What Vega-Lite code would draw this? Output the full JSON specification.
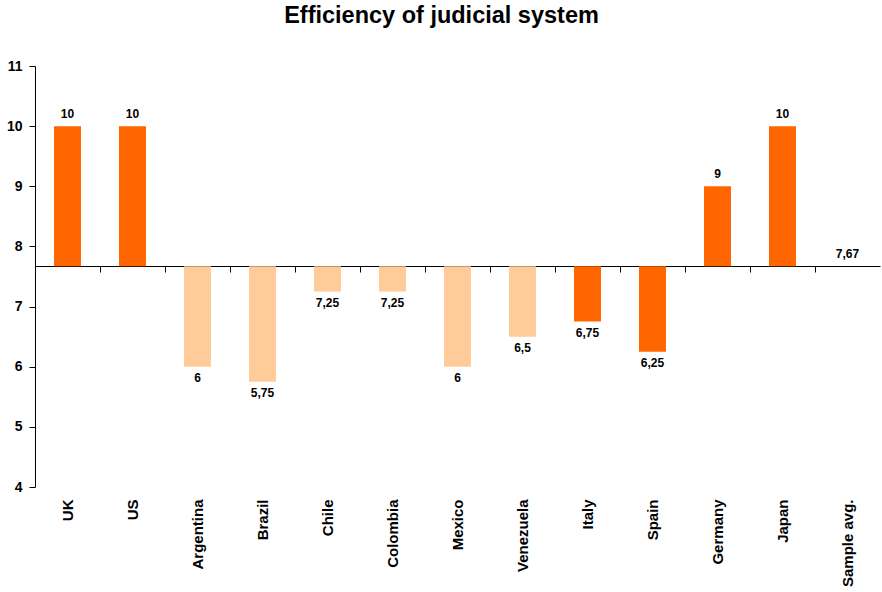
{
  "$schema": "https://vega.github.io/schema/vega-lite/v6.json",
  "width": 845,
  "height": 421,
  "autosize": {"type": "none"},
  "padding": {"left": 35, "top": 66, "right": 2, "bottom": 105},
  "background": "white",
  "title": {
    "text": "Efficiency of judicial system",
    "font": "Liberation Sans",
    "fontSize": 23.5,
    "fontWeight": "bold",
    "color": "black",
    "anchor": "middle",
    "dx": -16,
    "offset": 32
  },
  "data": {
    "values": [
      {"country": "UK", "value": 10, "group": "dev"},
      {"country": "US", "value": 10, "group": "dev"},
      {"country": "Argentina", "value": 6, "group": "latam"},
      {"country": "Brazil", "value": 5.75, "group": "latam"},
      {"country": "Chile", "value": 7.25, "group": "latam"},
      {"country": "Colombia", "value": 7.25, "group": "latam"},
      {"country": "Mexico", "value": 6, "group": "latam"},
      {"country": "Venezuela", "value": 6.5, "group": "latam"},
      {"country": "Italy", "value": 6.75, "group": "dev"},
      {"country": "Spain", "value": 6.25, "group": "dev"},
      {"country": "Germany", "value": 9, "group": "dev"},
      {"country": "Japan", "value": 10, "group": "dev"},
      {"country": "Sample avg.", "value": 7.67, "group": "avg"}
    ]
  },
  "transform": [
    {"calculate": "replace(toString(datum.value), '.', ',')", "as": "label"}
  ],
  "encoding": {
    "x": {
      "field": "country",
      "type": "nominal",
      "sort": null,
      "scale": {"paddingInner": 0, "paddingOuter": 0}
    }
  },
  "layer": [
    {
      "mark": {"type": "bar", "width": {"band": 0.415}},
      "encoding": {
        "x": {
          "field": "country",
          "type": "nominal",
          "sort": null,
          "axis": {
            "orient": "bottom",
            "title": null,
            "domain": false,
            "ticks": false,
            "labelAngle": 270,
            "labelAlign": "right",
            "labelBaseline": "middle",
            "labelPadding": 12,
            "labelFont": "Liberation Sans",
            "labelFontSize": 15,
            "labelFontWeight": "bold",
            "labelColor": "black"
          }
        },
        "y": {
          "field": "value",
          "type": "quantitative",
          "scale": {"domain": [4, 11], "nice": false, "zero": false},
          "axis": {
            "title": null,
            "values": [4, 5, 6, 7, 8, 9, 10, 11],
            "format": "d",
            "grid": false,
            "domainColor": "black",
            "tickColor": "black",
            "tickSize": 6,
            "labelPadding": 7,
            "labelFont": "Liberation Sans",
            "labelFontSize": 14,
            "labelFontWeight": "bold",
            "labelColor": "black"
          }
        },
        "y2": {"datum": 7.67},
        "color": {
          "field": "group",
          "type": "nominal",
          "scale": {"domain": ["dev", "latam", "avg"], "range": ["#FF6600", "#FFCC99", "#FF6600"]},
          "legend": null
        }
      }
    },
    {
      "transform": [{"filter": "datum.value >= 7.67"}],
      "mark": {"type": "text", "baseline": "bottom", "dy": -5, "font": "Liberation Sans", "fontSize": 12, "fontWeight": "bold", "color": "black"},
      "encoding": {
        "x": {
          "field": "country",
          "type": "nominal",
          "sort": null,
          "axis": {
            "orient": "bottom",
            "title": null,
            "labels": false,
            "domain": true,
            "domainColor": "black",
            "ticks": true,
            "tickColor": "black",
            "tickSize": 6,
            "bandPosition": 0,
            "tickExtra": true,
            "offset": -221
          }
        },
        "y": {"field": "value", "type": "quantitative"},
        "text": {"field": "label"}
      }
    },
    {
      "transform": [{"filter": "datum.value < 7.67"}],
      "mark": {"type": "text", "baseline": "top", "dy": 6, "font": "Liberation Sans", "fontSize": 12, "fontWeight": "bold", "color": "black"},
      "encoding": {
        "x": {"field": "country", "type": "nominal", "sort": null, "axis": null},
        "y": {"field": "value", "type": "quantitative"},
        "text": {"field": "label"}
      }
    }
  ],
  "resolve": {"axis": {"x": "independent"}},
  "config": {"view": {"stroke": null}}
}
